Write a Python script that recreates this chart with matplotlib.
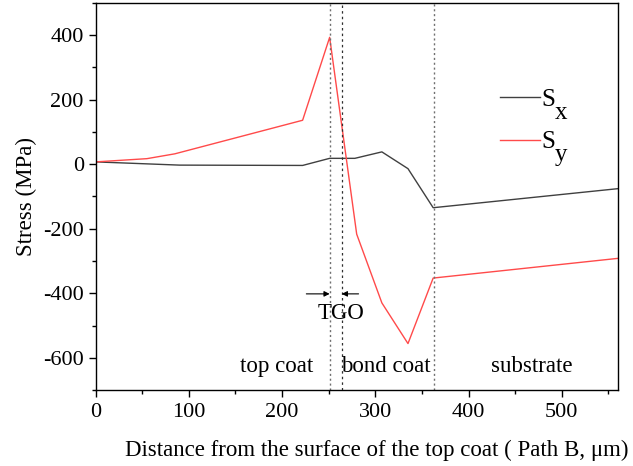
import matplotlib
matplotlib.use("Agg")
from matplotlib import pyplot as plt
from matplotlib.ticker import MultipleLocator

plt.rcParams['font.family'] = ['Liberation Serif', 'DejaVu Serif']
plt.rcParams['axes.unicode_minus'] = False

# stress along path B
sx_dist = [0, 90, 222, 251, 278, 307, 335, 362, 560]
sx_val = [7, -3, -4, 18, 18, 38, -14, -135, -76]
sy_dist = [0, 55, 85, 222, 251, 280, 307, 335, 362, 560]
sy_val = [7, 17, 32, 136, 393, -217, -430, -556, -353, -292]

# layer boundaries (um)
bounds = [251, 264, 363]
layer_names = ["top coat", "bond coat", "substrate"]
layer_x = [194, 311, 468]

fig = plt.figure(figsize=(6.33, 4.66), dpi=100)
ax = fig.add_axes([0.151, 0.163, 0.825, 0.831])

ax.plot(sx_dist, sx_val, color='#404040', lw=1.0, label='S')
ax.plot(sy_dist, sy_val, color='#ff4a4a', lw=1.0, label='S')

ax.axvline(bounds[0], color='#707070', ls=(0, (1.5, 2)), lw=1.0)
ax.axvline(bounds[1], color='#303030', ls=(0, (2, 2.5)), lw=0.9)
ax.axvline(bounds[2], color='#707070', ls=(0, (1.5, 2)), lw=1.0)

# TGO arrows
ax.annotate('', xy=(bounds[0], -402), xytext=(226, -402),
            arrowprops=dict(arrowstyle='-|>', color='k', lw=0.8, mutation_scale=8,
                            shrinkA=0, shrinkB=0))
ax.annotate('', xy=(bounds[1], -402), xytext=(282, -402),
            arrowprops=dict(arrowstyle='-|>', color='k', lw=0.8, mutation_scale=8,
                            shrinkA=0, shrinkB=0))
ax.text(263, -464, 'TGO', ha='center', va='center', fontsize=16.5)

for name, xpos in zip(layer_names, layer_x):
    ax.text(xpos, -628, name, ha='center', va='center', fontsize=16.5)

ax.set_xlim(0, 560)
ax.set_ylim(-700, 500)
ax.xaxis.set_major_locator(MultipleLocator(100))
ax.xaxis.set_minor_locator(MultipleLocator(50))
ax.yaxis.set_major_locator(MultipleLocator(200))
ax.yaxis.set_minor_locator(MultipleLocator(100))
ax.tick_params(which='both', direction='out', top=False, right=False, labelsize=16)
ax.tick_params(which='major', length=5, width=1)
ax.tick_params(which='minor', length=3, width=1)
ax.tick_params(axis='x', pad=4)
for sp in ax.spines.values():
    sp.set_linewidth(1.0)

ax.set_xlabel('Distance from the surface of the top coat ( Path B, \u03bcm)', fontsize=16.5)
ax.xaxis.set_label_coords(0.538, -0.128)
ax.set_ylabel('Stress (MPa)', fontsize=16.5)

leg = ax.legend(loc='center left', bbox_to_anchor=(0.774, 0.695), frameon=False, fontsize=18,
                handlelength=1.6, handletextpad=0.05, labelspacing=0.8, borderpad=0,
                borderaxespad=0)

# big subscripts next to the legend labels (placed after layout is known)
fig.canvas.draw()
W, H = fig.bbox.width, fig.bbox.height
for t, sub in zip(leg.get_texts(), ['x', 'y']):
    bb = t.get_window_extent()
    fig.text(bb.x1 / W, (bb.y0 - 8) / H, sub, va='baseline', ha='left', fontsize=18)

fig.savefig('out.png', dpi=100)
